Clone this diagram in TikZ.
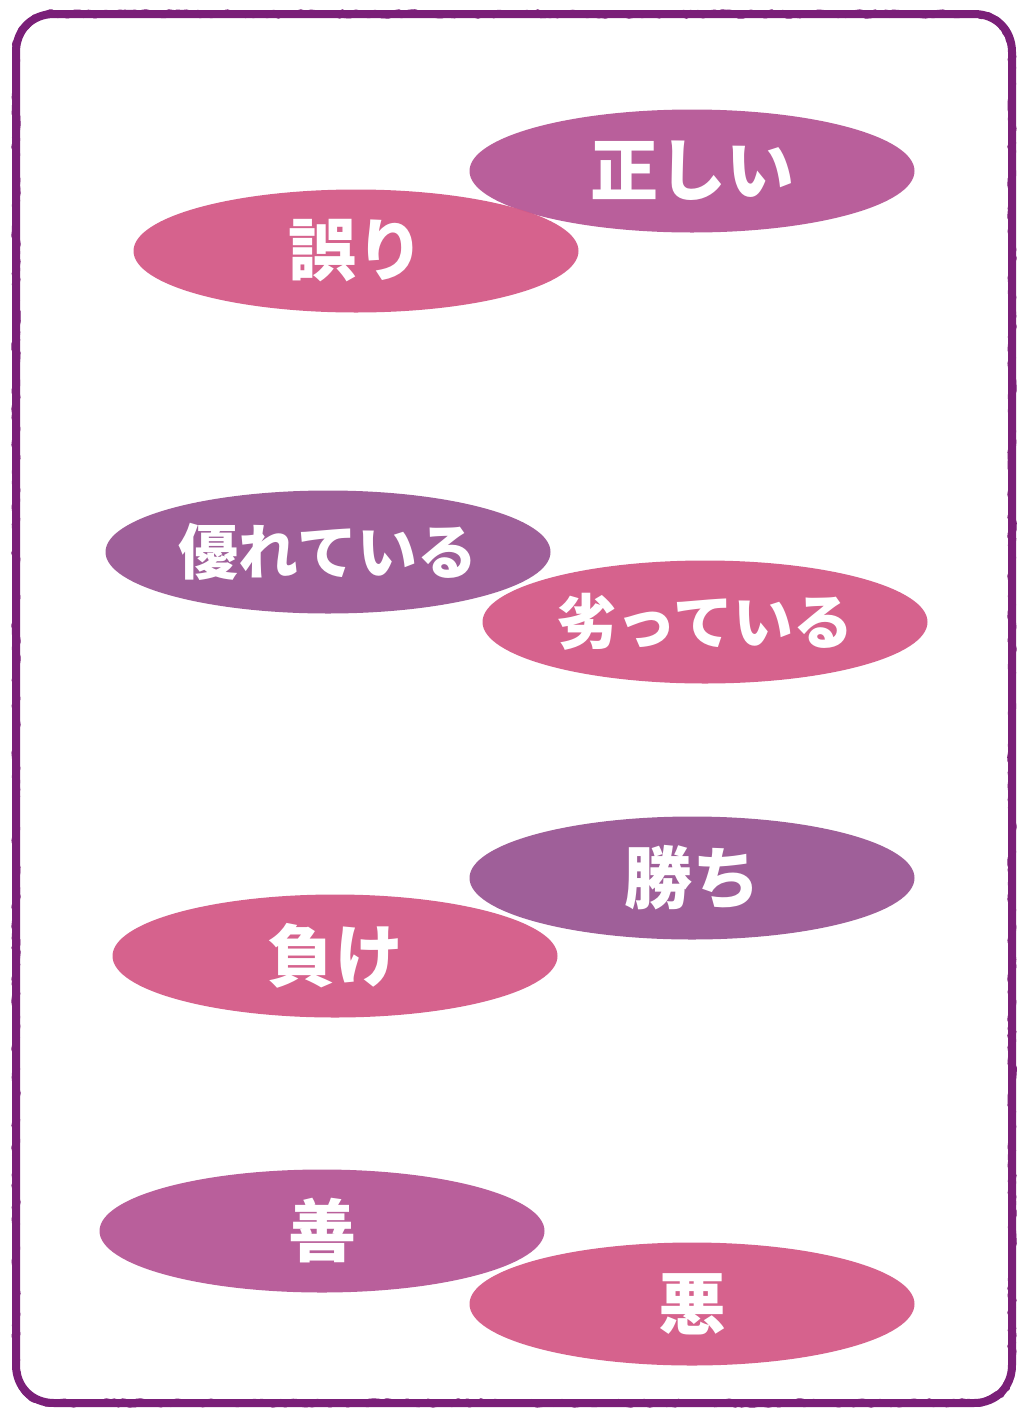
\documentclass[tikz,border=0pt]{standalone}
\usepackage{fontspec}
\newfontfamily\cjk{Noto Sans CJK JP}
\usetikzlibrary{shapes.geometric,decorations.pathmorphing}
\definecolor{frame}{HTML}{7A1F78}
\definecolor{pinkA}{HTML}{D45A87}
\definecolor{mauve}{HTML}{B65796}
\definecolor{violet}{HTML}{9A5794}
\tikzset{
  oval/.style={ellipse, minimum width=445pt, minimum height=123pt, inner sep=0pt, fill opacity=0.95, text opacity=1, text=white, font=\cjk\bfseries\fontsize{68pt}{70pt}\selectfont},
  ovallong/.style={oval, font=\cjk\bfseries\fontsize{60pt}{62pt}\selectfont},
  rough/.style={draw=frame, line width=6pt, line join=round, line cap=round, decorate, decoration={random steps, segment length=4pt, amplitude=1.8pt}}
}
\def\framepath{(54,14) -- (974,14) .. controls (996,14) and (1012,30) .. (1012,52) -- (1012,1365) .. controls (1012,1387) and (996,1403) .. (974,1403) -- (54,1403) .. controls (32,1403) and (16,1387) .. (16,1365) -- (16,52) .. controls (16,30) and (32,14) .. (54,14) -- cycle}
\begin{document}
\begin{tikzpicture}[x=1pt,y=-1pt]
\useasboundingbox (0,0) rectangle (1020,1409);
\fill[white] (0,0) rectangle (1020,1409);
\draw[draw=frame, line width=8pt] \framepath;
\draw[rough] \framepath;
\node[oval, fill=mauve] (tadashii) at (692,171) {正しい};
\node[oval, fill=pinkA] (ayamari) at (356,251) {誤り};
\node[ovallong, fill=violet] (sugure) at (328,552) {優れている};
\node[ovallong, fill=pinkA] (otoru) at (705,622) {劣っている};
\node[oval, fill=violet] (kachi) at (692,878) {勝ち};
\node[oval, fill=pinkA] (make) at (335,956) {負け};
\node[oval, fill=mauve] (zen) at (322,1231) {善};
\node[oval, fill=pinkA] (aku) at (692,1304) {悪};
\end{tikzpicture}
\end{document}
